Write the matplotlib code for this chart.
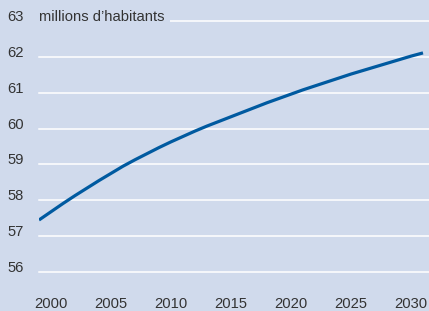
import matplotlib
matplotlib.use("Agg")
import matplotlib.pyplot as plt

# -----------------------------
# Data
# -----------------------------
years = list(range(1999, 2032))
population = [
    57.45, 57.68, 57.91, 58.13, 58.34, 58.55, 58.75, 58.95, 59.13, 59.30,
    59.47, 59.63, 59.78, 59.93, 60.07, 60.20, 60.33, 60.46, 60.59, 60.72,
    60.84, 60.96, 61.08, 61.19, 61.30, 61.41, 61.52, 61.62, 61.72, 61.82,
    61.92, 62.02, 62.11,
]
x_ticks = [2000, 2005, 2010, 2015, 2020, 2025, 2030]
y_ticks = [56, 57, 58, 59, 60, 61, 62, 63]
unit_label = "millions d\u2019habitants"

bg = "#D0DAEC"
line_color = "#005AA0"
text_color = "#333333"

plt.rcParams["font.family"] = ["Liberation Sans", "DejaVu Sans"]

# -----------------------------
# Figure
# -----------------------------
W, H = 429, 311
fig = plt.figure(figsize=(W / 100, H / 100), dpi=100, facecolor=bg)
ax = fig.add_axes([38.5 / W, (H - 272) / H, (W - 38.5) / W, 251 / H])
ax.set_facecolor(bg)

ax.set_xlim(1998.96, 2031.5)
ax.set_ylim(56, 63)

for v in y_ticks:
    ax.axhline(v, color="white", lw=1.1, zorder=1, clip_on=False)

ax.plot(years, population, color=line_color, lw=2.3, zorder=3,
        solid_capstyle="butt")

ax.text(1999.03, 63, unit_label, fontsize=10.6, color=text_color,
        va="baseline", ha="left", zorder=2,
        bbox=dict(boxstyle="square,pad=0.35", fc=bg, ec="none"))

ax.set_xticks(x_ticks)
ax.set_yticks(y_ticks)
ax.tick_params(axis="both", length=0, labelsize=10.6, labelcolor=text_color)
ax.tick_params(axis="x", pad=18)
ax.tick_params(axis="y", pad=10.4)
for lab in ax.get_yticklabels():
    lab.set_verticalalignment("baseline")

for s in ax.spines.values():
    s.set_visible(False)

fig.savefig("out.png", dpi=100, facecolor=bg)
